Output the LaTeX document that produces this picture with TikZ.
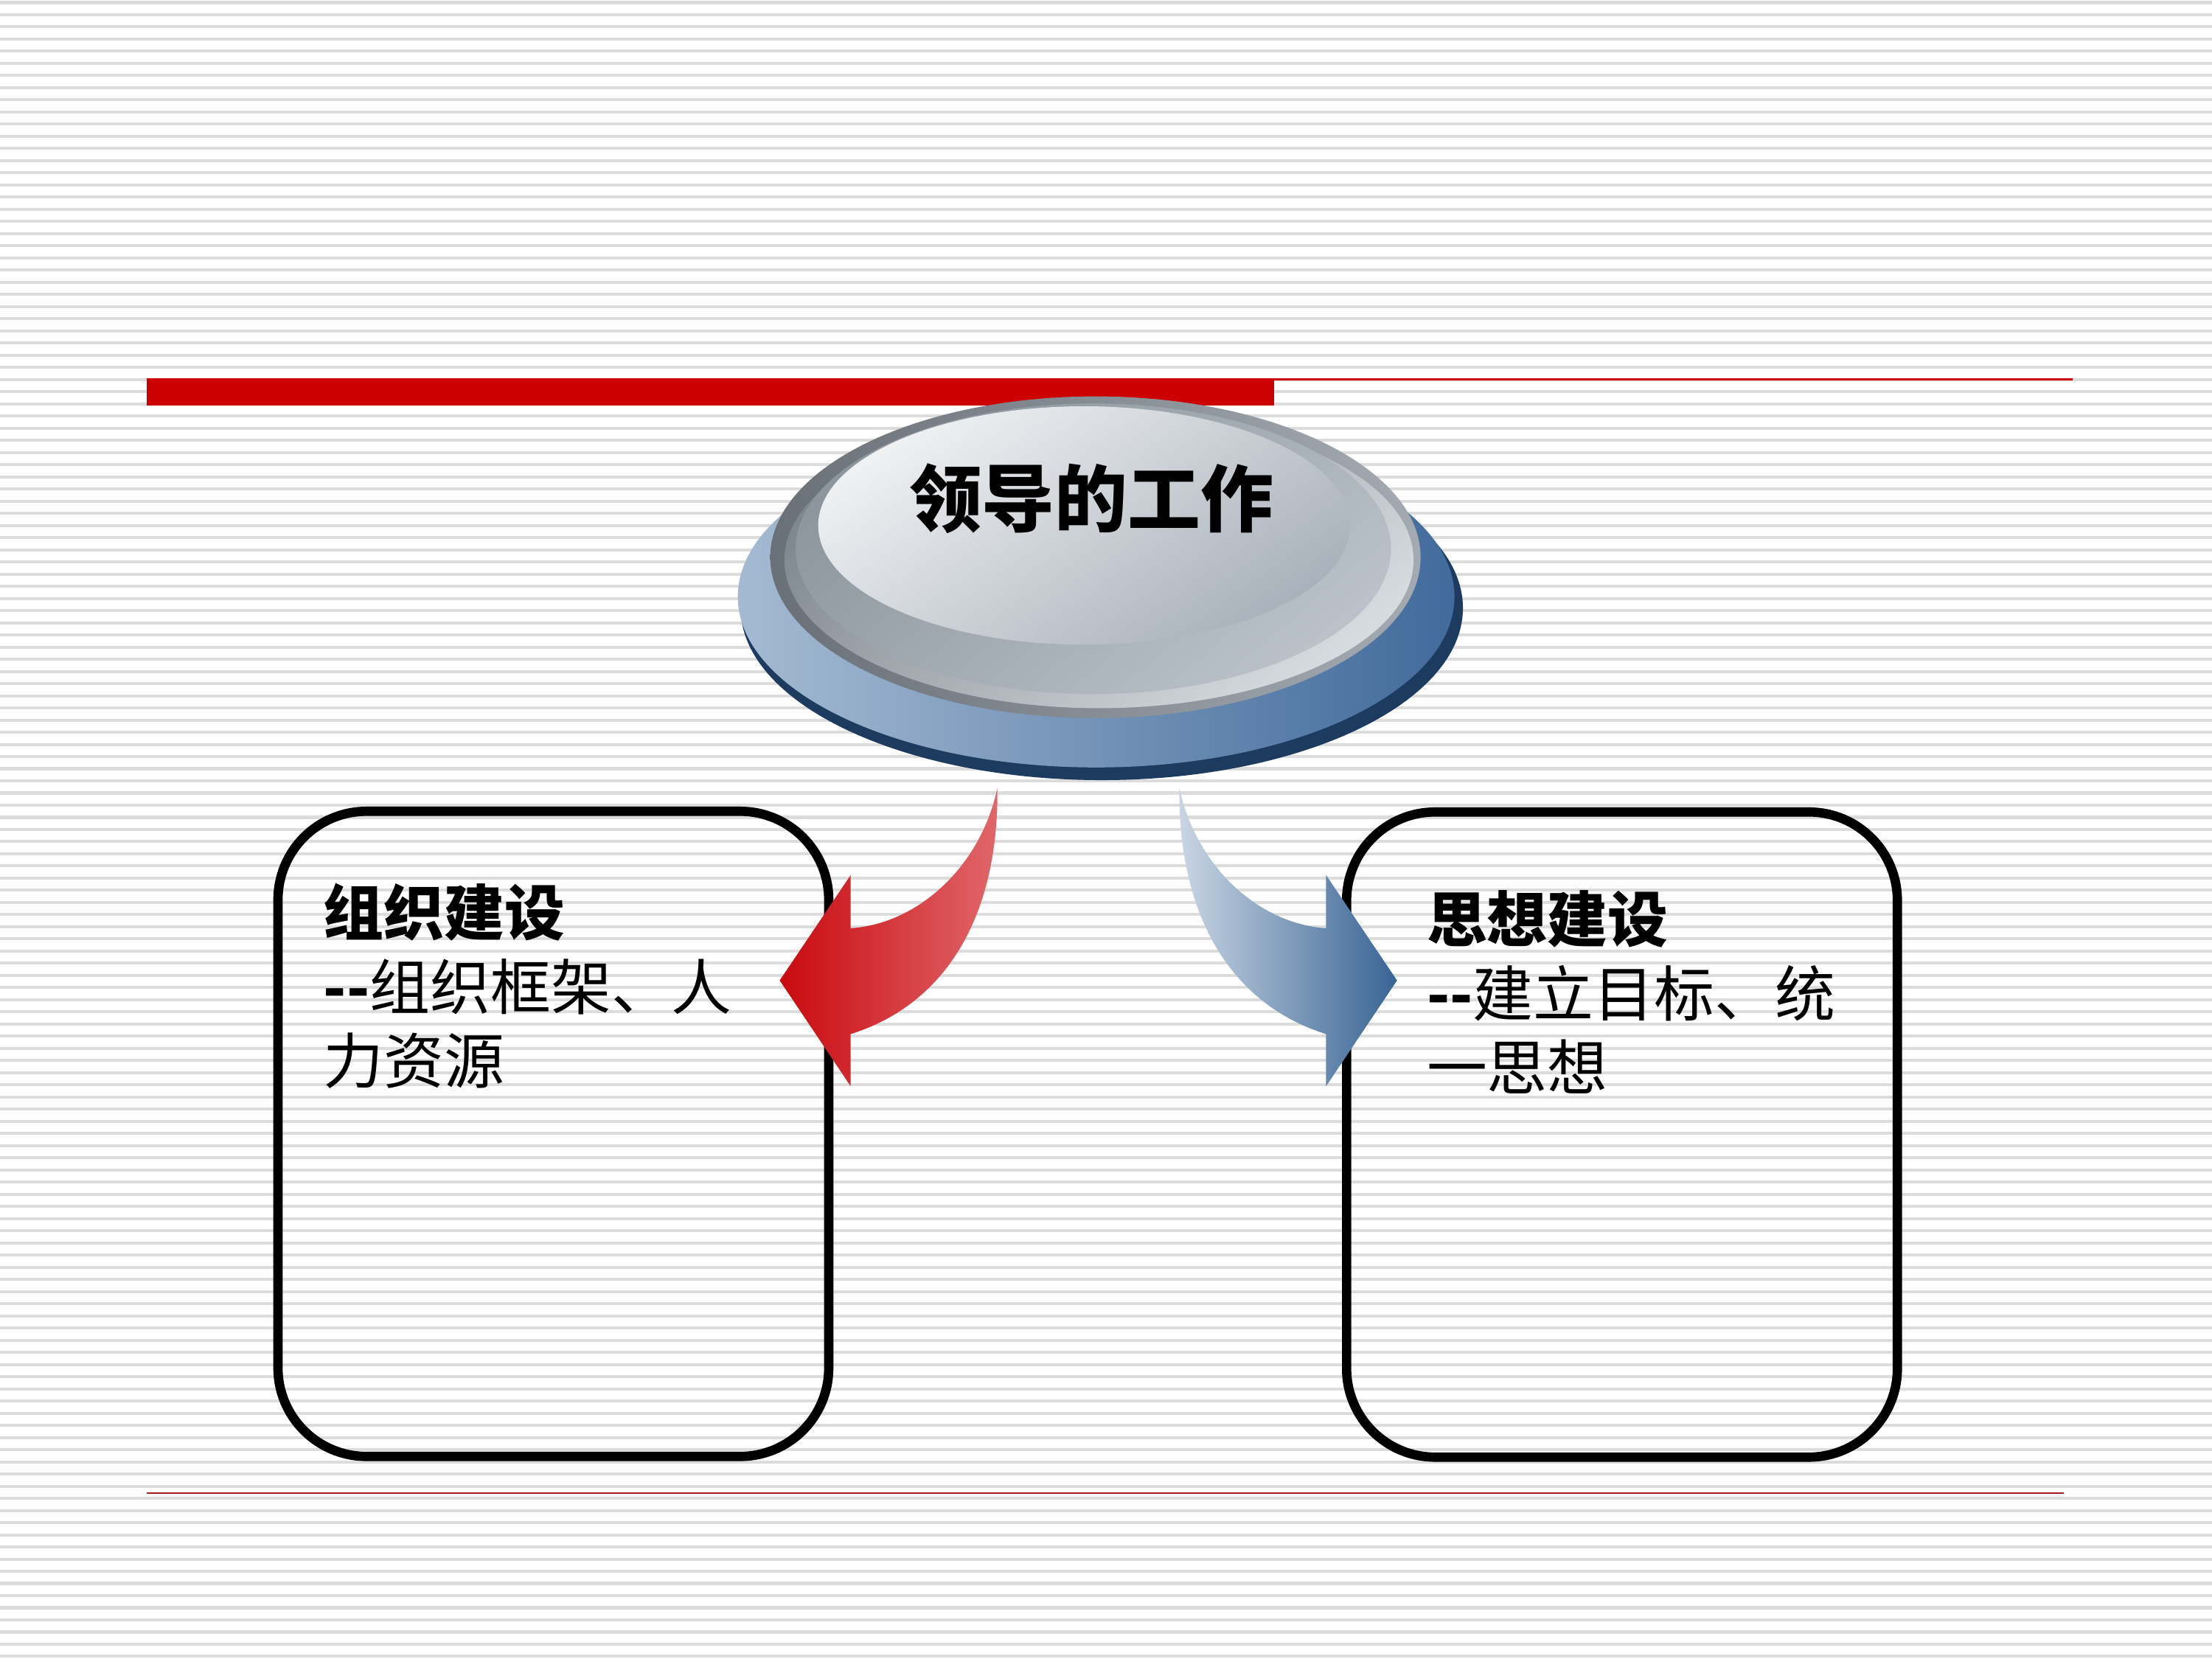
\documentclass[tikz,border=0pt]{standalone}
\usepackage{fontspec}
\newfontfamily\cjkfont{Noto Sans CJK SC}
\definecolor{barred}{HTML}{CC0000}
\definecolor{rulered}{HTML}{9E1B1B}
\definecolor{stripe}{HTML}{DCDCDC}
\definecolor{basenavy}{HTML}{1D3B5F}
\definecolor{basepale}{HTML}{A5BAD2}
\definecolor{basedeep}{HTML}{416B9C}
\definecolor{rimdark}{HTML}{6A7077}
\definecolor{rimlight}{HTML}{A3AAB1}
\definecolor{banddark}{HTML}{7F878E}
\definecolor{bandlight}{HTML}{D6DBDF}
\definecolor{ringdark}{HTML}{8E969D}
\definecolor{ringlight}{HTML}{BAC1C8}
\definecolor{capwhite}{HTML}{EFF1F3}
\definecolor{capgray}{HTML}{A9B1BA}
\definecolor{arrowred}{HTML}{C90A10}
\definecolor{arrowpink}{HTML}{E0676A}
\definecolor{arrowpale}{HTML}{CAD6E4}
\definecolor{arrowblue}{HTML}{386494}

\begin{document}
\begin{tikzpicture}[x=0.019133cm, y=-0.019133cm,
  panel/.style={draw=black, line width=3.6pt, rounded corners=1.2cm,
    minimum width=7.47cm, minimum height=8.75cm, inner sep=0pt},
  paneltext/.style={anchor=north west, inner sep=0pt, align=left,
    font=\cjkfont\fontsize{23.3}{28.6}\selectfont},
  title/.style={inner sep=0pt, font=\cjkfont\bfseries\fontsize{28.1}{32}\selectfont}]
  \useasboundingbox (0,0) rectangle (1568,1176);
  \fill[white] (0,0) rectangle (1568,1176);
  \foreach \k in {0,...,136}
    \draw[stripe, line width=1.15pt] (0,1.83+8.62*\k) -- (1568,1.83+8.62*\k);

  % red rules
  \fill[barred] (104,268.2) rectangle (903,287.5);
  \draw[barred, line width=0.85pt] (104,269) -- (1469,269);
  \draw[rulered, line width=0.4pt] (104,1058.5) -- (1463,1058.5);

  % button
  \fill[basenavy] (781,431) ellipse [x radius=256, y radius=122];
  \shade[left color=basepale, right color=basedeep] (777,423) ellipse [x radius=254, y radius=121];
  \shade[left color=rimdark, right color=rimlight] (776.5,395) ellipse [x radius=230.5, y radius=114];
  \shade[top color=banddark, bottom color=bandlight, shading angle=40] (779,397) ellipse [x radius=223, y radius=105];
  \shade[top color=ringdark, bottom color=ringlight, shading angle=40] (775,389) ellipse [x radius=211, y radius=103];
  \shade[top color=capwhite, bottom color=capgray, shading angle=35] (768.5,372.5) ellipse [x radius=188.5, y radius=84.5];
  \node[title] (lead) at (773.6,353.5) {领导的工作};

  \node[panel] (orgbox) at (392.25,803.75) {};
  \node[panel] (ideabox) at (1149.75,804.25) {};
  \node[paneltext] (orgtext) at (229,626) {\textbf{组织建设}\\\textbf{-{}-}组织框架、人\\力资源};
  \node[paneltext] (ideatext) at (1011,631) {\textbf{思想建设}\\\textbf{-{}-}建立目标、统\\一思想};

  % arrows
  \shade[left color=arrowred, right color=arrowpink]
    (707,558.5) .. controls (708,650) and (670,712) .. (603,733)
    -- (603,770) -- (552.7,695) -- (603,620.3) -- (603,658)
    .. controls (650,655) and (695,615) .. (707,558.5) -- cycle;
  \shade[left color=arrowpale, right color=arrowblue]
    (836,558.5) .. controls (835,650) and (873,712) .. (940,733)
    -- (940,770) -- (990.3,695) -- (940,620.3) -- (940,658)
    .. controls (893,655) and (848,615) .. (836,558.5) -- cycle;
\end{tikzpicture}
\end{document}
